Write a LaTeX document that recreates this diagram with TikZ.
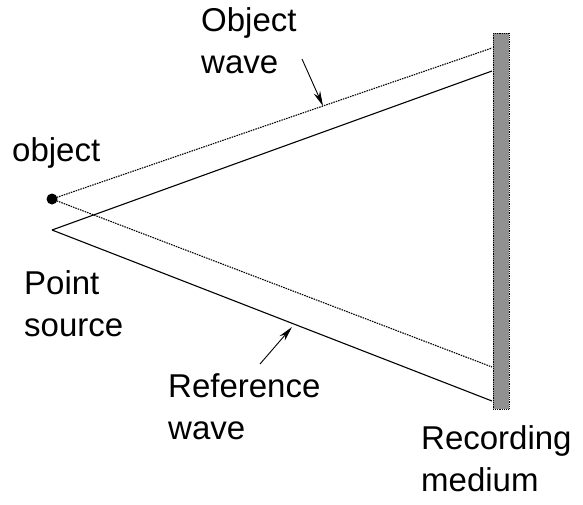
\documentclass[tikz,border=0pt]{standalone}
\usepackage{fontspec}
\setmainfont{Liberation Sans}
\usetikzlibrary{arrows.meta}

\tikzset{
	lbl/.style={font=\fontsize{33}{42}\selectfont, anchor=north west, inner sep=0pt, align=left},
	objray/.style={dash pattern=on 1.5pt off 1pt, line width=1.1pt},
	refray/.style={line width=1.1pt},
	pointer/.style={line width=0.9pt, -{Stealth[length=15pt, width=7pt]}}
}

\begin{document}
\begin{tikzpicture}[x=1pt, y=-1pt]

\useasboundingbox (0,0) rectangle (583,504);

% Recording plate
\filldraw[fill=black!43, draw=black, densely dotted, line width=0.8pt] (493,33) rectangle (509,409);

% Object and point source
\node[circle, fill=black, inner sep=0pt, minimum size=11pt] (obj) at (52,199) {};
\coordinate (src) at (52,230);

% Points where the rays reach the plate
\coordinate (objtop) at (492,48);
\coordinate (objbot) at (492,367);
\coordinate (reftop) at (492,71);
\coordinate (refbot) at (492,401);

% Rays
\draw[objray] (obj.center) -- (objtop);
\draw[objray] (obj.center) -- (objbot);
\draw[refray] (src) -- (reftop);
\draw[refray] (src) -- (refbot);

% Labels
\node[lbl] (objwave) at (201,7) {Object\\wave};
\node[lbl] (objlbl) at (12,137) {object};
\node[lbl] (srclbl) at (24,270) {Point\\source};
\node[lbl] (refwave) at (168,373) {Reference\\wave};
\node[lbl] (medium) at (421,425) {Recording\\medium};

% Pointers
\coordinate (owtail) at (302,59);
\coordinate (owhead) at (323,106);
\coordinate (rwtail) at (260,364);
\coordinate (rwhead) at (292,327);
\draw[pointer] (owtail) -- (owhead);
\draw[pointer] (rwtail) -- (rwhead);

\end{tikzpicture}
\end{document}
